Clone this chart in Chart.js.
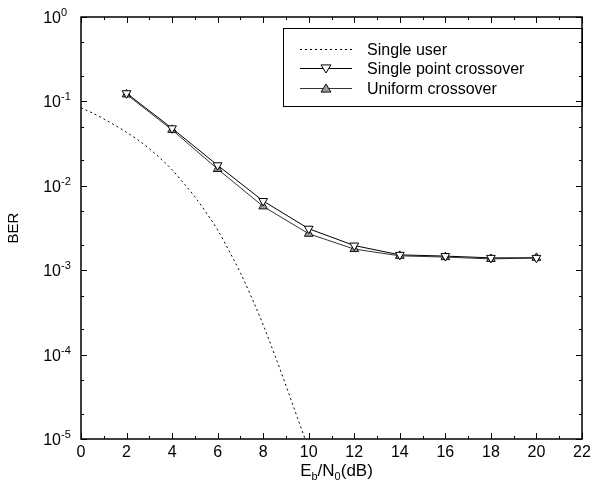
<!DOCTYPE html>
<html>
<head>
<meta charset="utf-8">
<title>BER vs Eb/N0</title>
<script src="https://cdn.jsdelivr.net/npm/chart.js@4/dist/chart.umd.min.js"></script>
<style>
  html, body { margin: 0; padding: 0; background: #fff; }
  canvas { display: block; }
</style>
</head>
<body>
<canvas id="berChart" width="605" height="483"></canvas>
<script>
// Eb/N0 points (dB) where the GA receiver was simulated
const snrPoints = [2, 4, 6, 8, 10, 12, 14, 16, 18, 20];
const singlePointBer = [0.125, 0.048, 0.0175, 0.0066, 0.0031, 0.00196, 0.00152, 0.00147, 0.0014, 0.0014];
const uniformBer = [0.121, 0.046, 0.0158, 0.0057, 0.0027, 0.00178, 0.00148, 0.00143, 0.00136, 0.0014];

// single user bound
const singleUserSnr = [0, 0.5, 1, 1.5, 2, 2.5, 3, 3.5, 4, 4.5, 5, 5.5, 6, 6.5, 7, 7.5, 8, 8.5, 9, 9.5, 10];
const singleUserBer = [0.084, 0.073, 0.062, 0.052, 0.043, 0.035, 0.0275, 0.021, 0.0155, 0.0108, 0.0074, 0.0048,
  0.0030, 0.0017, 9.3e-4, 4.7e-4, 2.25e-4, 1.0e-4, 4.3e-5, 1.8e-5, 7.6e-6];

// decades shown on the BER axis
const berExponents = [0, -1, -2, -3, -4, -5];
const snrTicks = [0, 2, 4, 6, 8, 10, 12, 14, 16, 18, 20, 22];

const FONT = '"Liberation Sans", Arial, sans-serif';

const toPoints = (xs, ys) => xs.map((x, i) => ({ x: x, y: ys[i] }));

function drawTriangle(ctx, x, y, r, down, fill, stroke) {
  const s = down ? -1 : 1;
  const h = r * 0.9;
  ctx.save();
  ctx.beginPath();
  ctx.moveTo(x, y - s * h);
  ctx.lineTo(x - r, y + s * h * 0.8);
  ctx.lineTo(x + r, y + s * h * 0.8);
  ctx.closePath();
  ctx.fillStyle = fill;
  ctx.fill();
  ctx.strokeStyle = stroke;
  ctx.lineWidth = 1;
  ctx.stroke();
  ctx.restore();
}

// frame, inward ticks, exponent labels, axis titles and legend box
const axesDecor = {
  id: 'axesDecor',
  afterDatasetsDraw(chart) {
    const ctx = chart.ctx;
    const { left, right, top, bottom } = chart.chartArea;
    const xs = chart.scales.x;
    const ys = chart.scales.y;
    ctx.save();
    ctx.strokeStyle = '#000';
    ctx.fillStyle = '#000';

    // ticks on all four sides
    ctx.lineWidth = 1;
    ctx.beginPath();
    for (let v = 0; v <= 22; v++) {
      const px = Math.round(xs.getPixelForValue(v)) + 0.5;
      const len = v % 2 === 0 ? 6 : 3;
      ctx.moveTo(px, bottom); ctx.lineTo(px, bottom - len);
      ctx.moveTo(px, top); ctx.lineTo(px, top + len);
    }
    berExponents.forEach(e => {
      const vals = [[Math.pow(10, e), 6]];
      if (e < 0) {
        vals.push([2 * Math.pow(10, e), 3], [5 * Math.pow(10, e), 3]);
      }
      vals.forEach(([v, len]) => {
        const py = Math.round(ys.getPixelForValue(v)) + 0.5;
        ctx.moveTo(left, py); ctx.lineTo(left + len, py);
        ctx.moveTo(right, py); ctx.lineTo(right - len, py);
      });
    });
    ctx.stroke();

    ctx.lineWidth = 1.5;
    ctx.strokeRect(left, top, right - left, bottom - top);

    // y tick labels 10^n
    ctx.textBaseline = 'alphabetic';
    berExponents.forEach(e => {
      const py = ys.getPixelForValue(Math.pow(10, e));
      ctx.font = '16px ' + FONT;
      ctx.textAlign = 'right';
      ctx.fillText('10', 61, py + 6);
      ctx.font = '11px ' + FONT;
      ctx.textAlign = 'left';
      ctx.fillText(String(e), 61, py - 1);
    });

    // y title
    ctx.save();
    ctx.translate(18, (top + bottom) / 2);
    ctx.rotate(-Math.PI / 2);
    ctx.font = '15px ' + FONT;
    ctx.textAlign = 'center';
    ctx.fillText('BER', 0, 0);
    ctx.restore();

    // x title with subscripts
    const parts = [['E', 17, 0], ['b', 11, 4], ['/N', 17, 0], ['0', 11, 4], ['(dB)', 17, 0]];
    let total = 0;
    parts.forEach(p => { ctx.font = p[1] + 'px ' + FONT; total += ctx.measureText(p[0]).width; });
    let cx = (left + right) / 2 + 5 - total / 2;
    ctx.textAlign = 'left';
    parts.forEach(p => {
      ctx.font = p[1] + 'px ' + FONT;
      ctx.fillText(p[0], cx, 476 + p[2]);
      cx += ctx.measureText(p[0]).width;
    });

    // legend
    ctx.lineWidth = 1;
    ctx.strokeRect(283.5, 28.5, 299, 78);
    const rows = [49, 68, 88];
    chart.data.datasets.forEach((ds, i) => {
      const y = rows[i] + 0.5;
      ctx.save();
      ctx.strokeStyle = ds.borderColor;
      ctx.lineWidth = ds.borderWidth;
      ctx.setLineDash(ds.borderDash || []);
      ctx.beginPath();
      ctx.moveTo(300, y); ctx.lineTo(352, y);
      ctx.stroke();
      ctx.restore();
      if (ds.pointRadius > 0) {
        drawTriangle(ctx, 326, y, 5, ds.pointRotation === 180, ds.pointBackgroundColor, ds.pointBorderColor);
      }
      ctx.font = '16px ' + FONT;
      ctx.textAlign = 'left';
      ctx.fillStyle = '#000';
      ctx.fillText(ds.label, 367, rows[i] + 6);
    });
    ctx.restore();
  }
};

new Chart(document.getElementById('berChart'), {
  type: 'line',
  data: {
    datasets: [
      {
        label: 'Single user',
        data: toPoints(singleUserSnr, singleUserBer),
        borderColor: '#000',
        borderWidth: 1,
        borderDash: [2, 3],
        pointRadius: 0,
        cubicInterpolationMode: 'monotone',
        order: 2
      },
      {
        label: 'Single point crossover',
        data: toPoints(snrPoints, singlePointBer),
        borderColor: '#000',
        borderWidth: 1,
        pointStyle: 'triangle',
        pointRotation: 180,
        pointRadius: 5,
        pointBackgroundColor: '#fff',
        pointBorderColor: '#000',
        pointBorderWidth: 1,
        order: 0
      },
      {
        label: 'Uniform crossover',
        data: toPoints(snrPoints, uniformBer),
        borderColor: '#333',
        borderWidth: 1,
        pointStyle: 'triangle',
        pointRotation: 0,
        pointRadius: 5,
        pointBackgroundColor: '#9a9a9a',
        pointBorderColor: '#111',
        pointBorderWidth: 1,
        order: 1
      }
    ]
  },
  options: {
    responsive: false,
    animation: false,
    layout: { padding: { top: 17, right: 23, left: 0, bottom: 0 } },
    plugins: {
      legend: { display: false },
      tooltip: { enabled: false }
    },
    scales: {
      x: {
        type: 'linear',
        min: 0,
        max: 22,
        afterBuildTicks: scale => { scale.ticks = snrTicks.map(v => ({ value: v })); },
        afterFit: scale => { scale.height = 44; },
        grid: { display: false, drawTicks: false },
        border: { display: false },
        ticks: {
          padding: 4,
          maxRotation: 0,
          color: '#000',
          font: { family: FONT, size: 16 }
        }
      },
      y: {
        type: 'logarithmic',
        min: 1e-5,
        max: 1,
        afterFit: scale => { scale.width = 81; },
        grid: { display: false, drawTicks: false },
        border: { display: false },
        ticks: { display: false }
      }
    }
  },
  plugins: [axesDecor]
});
</script>
</body>
</html>
